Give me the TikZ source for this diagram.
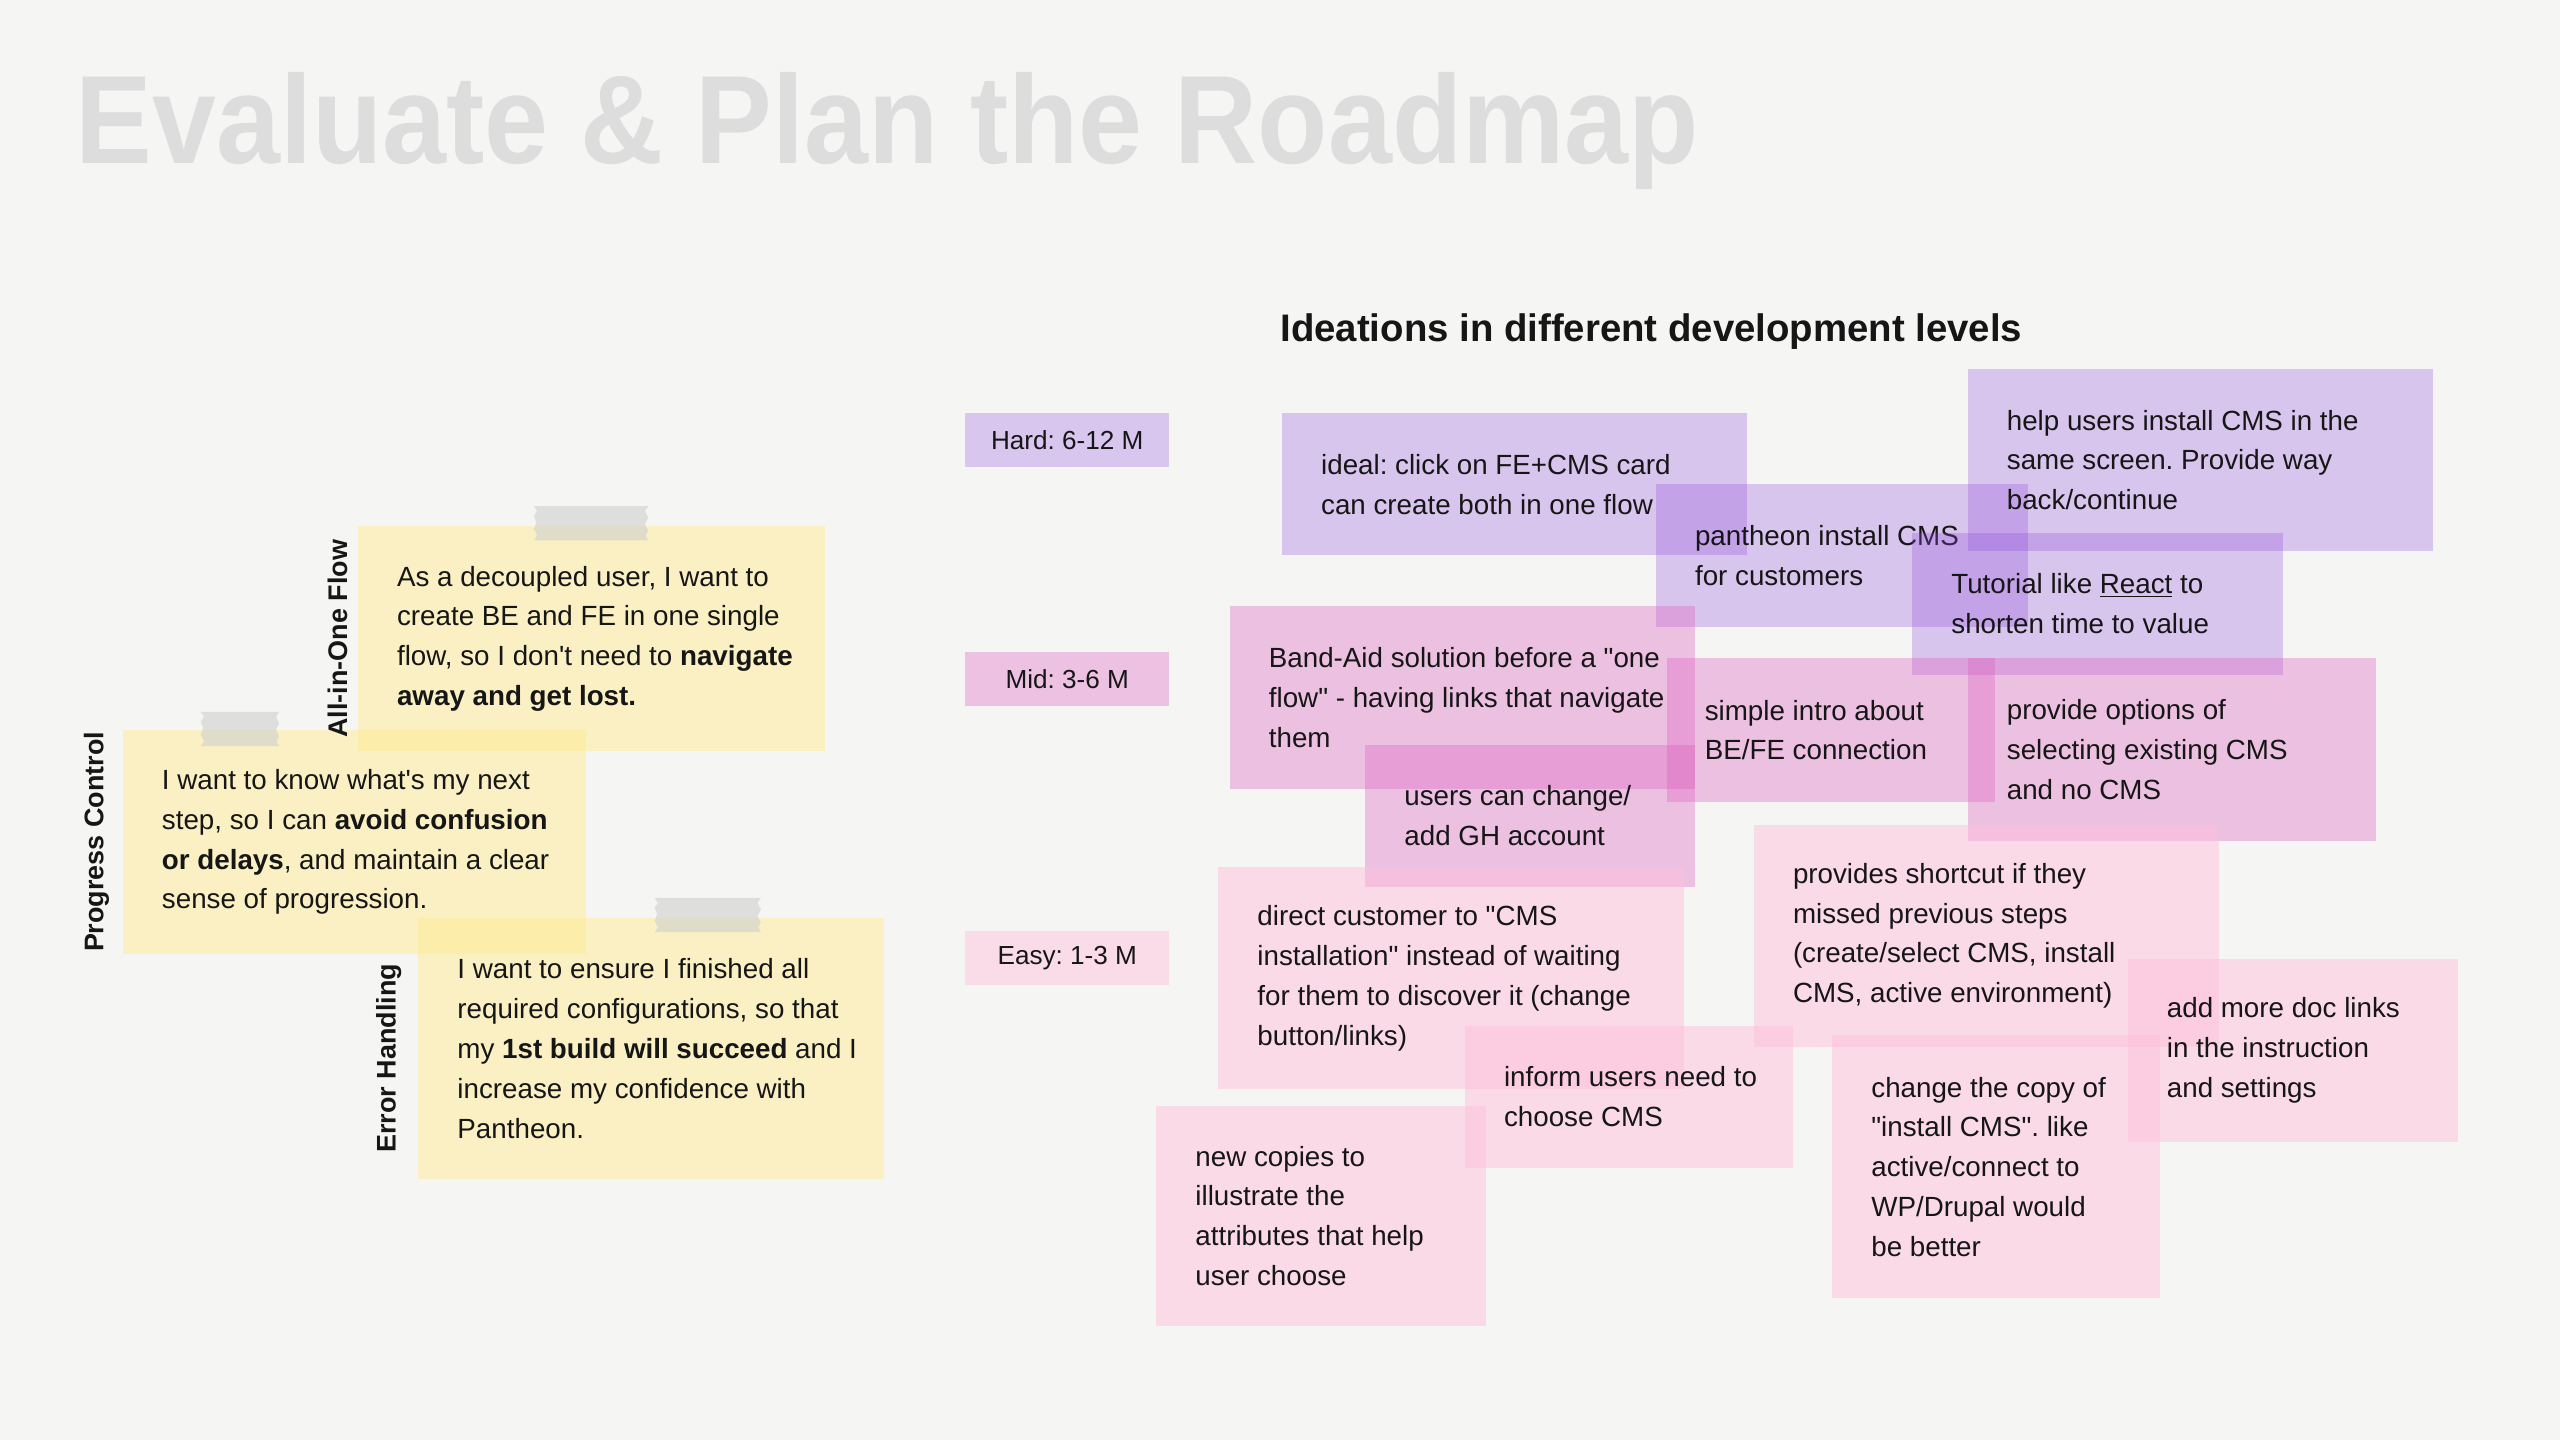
\documentclass[tikz,border=0pt]{standalone}
\usepackage{fontspec}
\setmainfont{Liberation Sans}[Ligatures=TeXOff]
\usetikzlibrary{positioning}
\frenchspacing

\definecolor{paper}{RGB}{245,245,244}
\definecolor{ink}{RGB}{22,22,22}
\definecolor{titlec}{RGB}{221,221,221}
\definecolor{storyc}{RGB}{255,237,147}
\definecolor{hardc}{RGB}{141,74,220}
\definecolor{midc}{RGB}{222,94,191}
\definecolor{easyc}{RGB}{255,193,219}
\definecolor{hardl}{RGB}{216,198,238}
\definecolor{midl}{RGB}{236,193,226}
\definecolor{easyl}{RGB}{250,219,232}
\definecolor{tapec}{RGB}{207,207,207}

% torn tape strip: left x, top y, width
\newcommand{\tapestrip}[3]{%
  \fill[tape] (#1,#2) -- ++(#3,0) -- ++(-2,3) -- ++(2,4) -- ++(-2,4) -- ++(2,4) -- ++(-1.5,3) -- ++(1.5,3)
    -- ++(-#3,0) -- ++(2,-3) -- ++(-2,-4) -- ++(1.5,-4) -- ++(-1.5,-4) -- ++(2,-3) -- cycle;}

\begin{document}
\frenchspacing
\begin{tikzpicture}[x=1pt, y=-1pt, font=\fontsize{17}{24.4}\selectfont, text=ink,
  story/.style={rectangle, anchor=north west, inner sep=0pt, fill=storyc, fill opacity=0.5},
  hard/.style={rectangle, anchor=north west, inner sep=0pt, fill=hardc, fill opacity=0.28},
  mid/.style={rectangle, anchor=north west, inner sep=0pt, fill=midc, fill opacity=0.35},
  easy/.style={rectangle, anchor=north west, inner sep=0pt, fill=easyc, fill opacity=0.5},
  note/.style={inner sep=0pt, align=left},
  level/.style={rectangle, anchor=north west, minimum width=125pt, minimum height=33pt, inner sep=0pt,
    font=\fontsize{16}{19}\selectfont},
  theme/.style={rotate=90, anchor=south, inner sep=0pt, font=\fontsize{16.5}{19}\selectfont\bfseries},
  tape/.style={fill=tapec, fill opacity=0.6}]
  \fill[paper] (0,0) rectangle (1568,882);
  \useasboundingbox (0,0) rectangle (1568,882);

  \node[anchor=base west, inner sep=0pt, text=titlec, font=\fontsize{77}{80}\selectfont\bfseries] (title)
    at (46,100) {\scalebox{0.915}[1]{Evaluate \& Plan the Roadmap}};
  \node[anchor=base west, inner sep=0pt, font=\fontsize{23.5}{28}\selectfont\bfseries] (ideations)
    at (784,209) {Ideations in different development levels};

  % user stories
  \node[story, minimum width=286pt, minimum height=138pt] (allinone) at (219,322) {};
  \node[note, right=24pt of allinone.west] {As a decoupled user, I want to\\create BE and FE in one single\\flow, so I don't need to \textbf{navigate}\\\textbf{away and get lost.}};
  \tapestrip{327}{310}{70}
  \node[story, minimum width=284pt, minimum height=137pt] (progress) at (75,447) {};
  \node[note, right=24pt of progress.west] {I want to know what's my next\\step, so I can \textbf{avoid confusion}\\\textbf{or delays}, and maintain a clear\\sense of progression.};
  \tapestrip{123}{436}{48}
  \node[story, minimum width=285pt, minimum height=160pt] (errorh) at (256,562) {};
  \node[note, right=24pt of errorh.west] {I want to ensure I finished all\\required configurations, so that\\my \textbf{1st build will succeed} and I\\increase my confidence with\\Pantheon.};
  \tapestrip{401}{550}{65}

  \node[theme] at ([xshift=-6pt]allinone.west) {All-in-One Flow};
  \node[theme] at ([xshift=-8pt]progress.west) {Progress Control};
  \node[theme] at ([xshift=-10pt, yshift=-6pt]errorh.west) {Error Handling};

  % levels
  \node[level, fill=hardl] (hardlvl) at (591,253) {Hard: 6-12 M};
  \node[level, fill=midl] (midlvl) at (591,399) {Mid: 3-6 M};
  \node[level, fill=easyl] (easylvl) at (591,570) {Easy: 1-3 M};

  % hard
  \node[hard, minimum width=285pt, minimum height=87pt] (ideal) at (785,253) {};
  \node[note, right=24pt of ideal.west] {ideal: click on FE+CMS card\\can create both in one flow};
  \node[hard, minimum width=228pt, minimum height=88pt] (pantheon) at (1014,296) {};
  \node[note, right=24pt of pantheon.west] {pantheon install CMS\\for customers};
  \node[hard, minimum width=285pt, minimum height=111pt] (samescreen) at (1205,226) {};
  \node[note, right=24pt of samescreen.west] {help users install CMS in the\\same screen. Provide way\\back/continue};
  \node[hard, minimum width=227pt, minimum height=87pt] (tutorial) at (1171,326) {};
  \node[note, right=24pt of tutorial.west] {Tutorial like \underline{React} to\\shorten time to value};

  % mid
  \node[mid, minimum width=285pt, minimum height=112pt] (bandaid) at (753,371) {};
  \node[note, right=24pt of bandaid.west] {Band-Aid solution before a "one\\flow" - having links that navigate\\them};
  \node[mid, minimum width=202pt, minimum height=87pt] (ghaccount) at (836,456) {};
  \node[note, right=24pt of ghaccount.west] {users can change/\\add GH account};
  \node[mid, minimum width=201pt, minimum height=88pt] (intro) at (1021,403) {};
  \node[note, right=23pt of intro.west] {simple intro about\\BE/FE connection};
  \node[mid, minimum width=250pt, minimum height=112pt] (options) at (1205,403) {};
  \node[note, right=24pt of options.west] {provide options of\\selecting existing CMS\\and no CMS};

  % easy
  \node[easy, minimum width=285pt, minimum height=136pt] (direct) at (746,531) {};
  \node[note, right=24pt of direct.west] {direct customer to "CMS\\installation" instead of waiting\\for them to discover it (change\\button/links)};
  \node[easy, minimum width=201pt, minimum height=87pt] (inform) at (897,628) {};
  \node[note, right=24pt of inform.west] {inform users need to\\choose CMS};
  \node[easy, minimum width=202pt, minimum height=135pt] (newcopies) at (708,677) {};
  \node[note, right=24pt of newcopies.west] {new copies to\\illustrate the\\attributes that help\\user choose};
  \node[easy, minimum width=285pt, minimum height=136pt] (shortcut) at (1074,505) {};
  \node[note, right=24pt of shortcut.west] {provides shortcut if they\\missed previous steps\\(create/select CMS, install\\CMS, active environment)};
  \node[easy, minimum width=201pt, minimum height=161pt] (copychange) at (1122,634) {};
  \node[note, right=24pt of copychange.west] {change the copy of\\"install CMS". like\\active/connect to\\WP/Drupal would\\be better};
  \node[easy, minimum width=202pt, minimum height=112pt] (doclinks) at (1303,587) {};
  \node[note, right=24pt of doclinks.west] {add more doc links\\in the instruction\\and settings};
\end{tikzpicture}
\end{document}
